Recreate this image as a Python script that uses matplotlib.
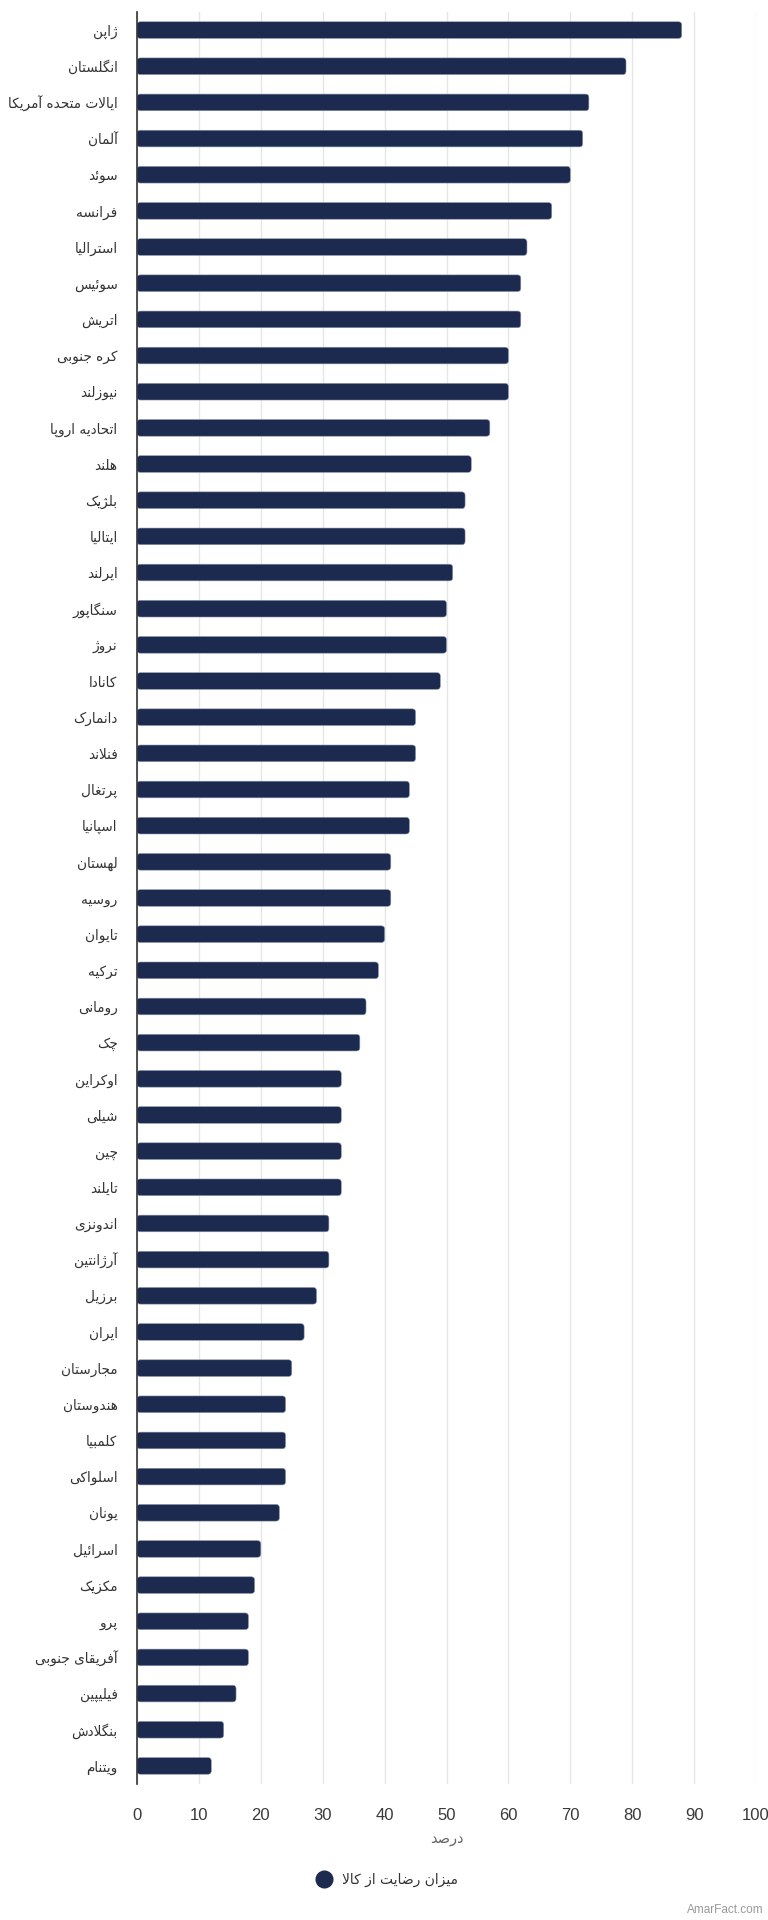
import matplotlib
matplotlib.use("Agg")
import matplotlib.pyplot as plt
from matplotlib.patches import FancyBboxPatch
from matplotlib.lines import Line2D

countries = ["ژاپن", "انگلستان", "ایالات متحده آمریکا", "آلمان", "سوئد", "فرانسه", "استرالیا",
             "سوئیس", "اتریش", "کره جنوبی", "نیوزلند", "اتحادیه اروپا", "هلند", "بلژیک",
             "ایتالیا", "ایرلند", "سنگاپور", "نروژ", "کانادا", "دانمارک", "فنلاند", "پرتغال",
             "اسپانیا", "لهستان", "روسیه", "تایوان", "ترکیه", "رومانی", "چک", "اوکراین",
             "شیلی", "چین", "تایلند", "اندونزی", "آرژانتین", "برزیل", "ایران", "مجارستان",
             "هندوستان", "کلمبیا", "اسلواکی", "یونان", "اسرائیل", "مکزیک", "پرو",
             "آفریقای جنوبی", "فیلیپین", "بنگلادش", "ویتنام"]
satisfaction = [88, 79, 73, 72, 70, 67, 63, 62, 62, 60, 60, 57, 54, 53, 53, 51, 50, 50, 49,
                45, 45, 44, 44, 41, 41, 40, 39, 37, 36, 33, 33, 33, 33, 31, 31, 29, 27, 25,
                24, 24, 24, 23, 20, 19, 18, 18, 16, 14, 12]
x_ticks = [0, 10, 20, 30, 40, 50, 60, 70, 80, 90, 100]
series_name = "میزان رضایت از کالا"
x_label = "درصد"
watermark = "AmarFact.com"

# --- minimal Persian shaping (presentation forms + visual order) ---
_dual = {
    'ب': 'FE8F FE90 FE91 FE92', 'پ': 'FB56 FB57 FB58 FB59', 'ت': 'FE95 FE96 FE97 FE98',
    'ث': 'FE99 FE9A FE9B FE9C', 'ج': 'FE9D FE9E FE9F FEA0', 'چ': 'FB7A FB7B FB7C FB7D',
    'ح': 'FEA1 FEA2 FEA3 FEA4', 'خ': 'FEA5 FEA6 FEA7 FEA8', 'س': 'FEB1 FEB2 FEB3 FEB4',
    'ش': 'FEB5 FEB6 FEB7 FEB8', 'ص': 'FEB9 FEBA FEBB FEBC', 'ض': 'FEBD FEBE FEBF FEC0',
    'ط': 'FEC1 FEC2 FEC3 FEC4', 'ظ': 'FEC5 FEC6 FEC7 FEC8', 'ع': 'FEC9 FECA FECB FECC',
    'غ': 'FECD FECE FECF FED0', 'ف': 'FED1 FED2 FED3 FED4', 'ق': 'FED5 FED6 FED7 FED8',
    'ک': 'FB8E FB8F FB90 FB91', 'گ': 'FB92 FB93 FB94 FB95', 'ل': 'FEDD FEDE FEDF FEE0',
    'م': 'FEE1 FEE2 FEE3 FEE4', 'ن': 'FEE5 FEE6 FEE7 FEE8', 'ه': 'FEE9 FEEA FEEB FEEC',
    'ی': 'FBFC FBFD FBFE FBFF', 'ئ': 'FE89 FE8A FE8B FE8C',
}
_right = {
    'ا': 'FE8D FE8E', 'آ': 'FE81 FE82', 'د': 'FEA9 FEAA', 'ذ': 'FEAB FEAC',
    'ر': 'FEAD FEAE', 'ز': 'FEAF FEB0', 'ژ': 'FB8A FB8B', 'و': 'FEED FEEE',
}
_forms = {}
for k, v in _dual.items():
    _forms[k] = [chr(int(h, 16)) for h in v.split()]
for k, v in _right.items():
    f = [chr(int(h, 16)) for h in v.split()]
    _forms[k] = [f[0], f[1], None, None]
_lam_alef = {'ا': ('\uFEFB', '\uFEFC'), 'آ': ('\uFEF5', '\uFEF6')}


def shape(text):
    out = []
    chars = list(text)
    i = 0
    prev_joins = False
    while i < len(chars):
        c = chars[i]
        if c not in _forms:
            out.append(c)
            prev_joins = False
            i += 1
            continue
        nxt = chars[i + 1] if i + 1 < len(chars) else None
        if c == 'ل' and nxt in _lam_alef:
            iso, fin = _lam_alef[nxt]
            out.append(fin if prev_joins else iso)
            prev_joins = False
            i += 2
            continue
        f = _forms[c]
        can_next = f[2] is not None and nxt in _forms
        if prev_joins and can_next:
            g = f[3]
        elif prev_joins:
            g = f[1]
        elif can_next:
            g = f[2]
        else:
            g = f[0]
        out.append(g)
        prev_joins = f[2] is not None
        i += 1
    return ''.join(out)[::-1]


bar_color = "#1b2a4e"
fig = plt.figure(figsize=(7.68, 19.2), dpi=100)
ax = fig.add_axes([137 / 768, 1 - 1784 / 1920, 619 / 768, (1784 - 12) / 1920])

ypos = list(range(len(countries)))
bars = ax.barh(ypos, satisfaction, height=0.46, color=bar_color, zorder=3)
# replace rectangles by rounded ones
x_px = 619 / 100.0
y_px = (1784 - 12) / len(countries)
for r in bars.patches:
    x0, y0 = r.get_x(), r.get_y()
    w, h = r.get_width(), r.get_height()
    r.set_visible(False)
    p = FancyBboxPatch((x0, y0), w, h, boxstyle="round,pad=0,rounding_size=0.55",
                       mutation_aspect=x_px / y_px, facecolor=bar_color,
                       edgecolor="#8a93aa", linewidth=0.4, zorder=3)
    ax.add_patch(p)

ax.set_ylim(len(countries) - 0.5, -0.5)
ax.set_xlim(0, 100)
ax.set_xticks(x_ticks)
ax.set_xticklabels([str(t) for t in x_ticks], fontfamily="Liberation Sans", fontsize=12, color="#3a3a3a")
ax.set_yticks(ypos)
ax.set_yticklabels([shape(c) for c in countries], fontfamily="DejaVu Sans", fontsize=9.8, color="#333333")
ax.tick_params(axis="y", length=0, pad=14)
ax.tick_params(axis="x", length=0, pad=17)
ax.grid(axis="x", color="#e6e6e6", linewidth=1, zorder=0)
ax.set_axisbelow(True)
for s in ["top", "right", "bottom"]:
    ax.spines[s].set_visible(False)
ax.spines["left"].set_color("#333333")
ax.spines["left"].set_linewidth(1.2)
ax.spines["left"].set_zorder(4)

ax.set_xlabel(shape(x_label), fontfamily="DejaVu Sans", fontsize=10.5, color="#666666", labelpad=6)

handle = Line2D([], [], marker="o", linestyle="none", markersize=12, color=bar_color)
fig.legend([handle], [shape(series_name)], loc="center", bbox_to_anchor=(0.5, 1 - 1880 / 1920),
           frameon=False, prop={"family": "DejaVu Sans", "size": 10}, handletextpad=0.3,
           labelcolor="#333333")

fig.text(764 / 768, 1 - 1910 / 1920, watermark, ha="right", va="center", fontsize=8.5,
         color="#999999", fontfamily="Liberation Sans")

fig.savefig("out.png", dpi=100)
